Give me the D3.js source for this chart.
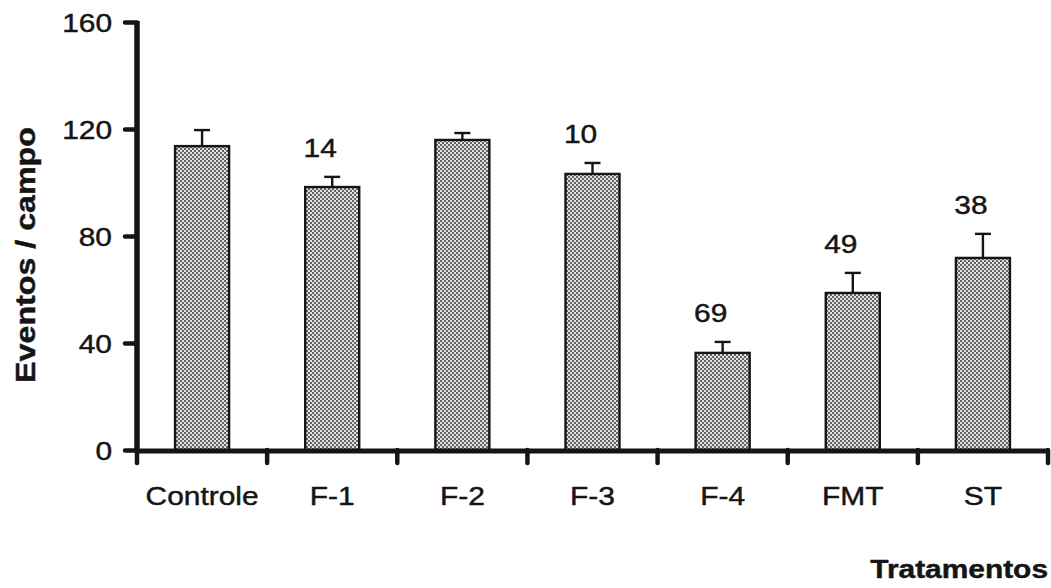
<!DOCTYPE html>
<html>
<head>
<meta charset="utf-8">
<script src="https://cdn.jsdelivr.net/npm/d3@7"></script>
<style>
  html, body { margin: 0; padding: 0; background: #fff; }
  svg { display: block; }
  text { font-family: "Liberation Sans", Arial, Helvetica, sans-serif; fill: #151515; stroke: #151515; stroke-width: 0.45px; }
</style>
</head>
<body>
<svg id="chart" width="1051" height="588"></svg>
<script>
// Treatments and mean events per field (with standard error)
const categories = ["Controle", "F-1", "F-2", "F-3", "F-4", "FMT", "ST"];
const means = [113.6, 98.3, 115.9, 103.2, 36.3, 58.7, 71.8];
const errors = [6.0, 3.8, 2.6, 4.1, 4.1, 7.5, 9.0];

// Numbers printed above selected bars
const noteCategories = ["F-1", "F-3", "F-4", "FMT", "ST"];
const noteLabels = ["14", "10", "69", "49", "38"];

const yTicks = [0, 40, 80, 120, 160];
const yLabel = "Eventos / campo";
const xLabel = "Tratamentos";

const svg = d3.select("#chart");
const ink = "#151515";
const stretch = "scale(1.15,1)";

// Halftone fill used for the bars
const defs = svg.append("defs");
const pat = defs.append("pattern")
  .attr("id", "halftone")
  .attr("patternUnits", "userSpaceOnUse")
  .attr("width", 4).attr("height", 4);
pat.append("rect").attr("width", 4).attr("height", 4).attr("fill", "#e2e2e2");
pat.append("circle").attr("cx", 1).attr("cy", 1).attr("r", 0.95).attr("fill", "#2e2e2e");
pat.append("circle").attr("cx", 3).attr("cy", 3).attr("r", 0.95).attr("fill", "#2e2e2e");

const x = d3.scaleBand().domain(categories).range([137, 1048])
  .paddingInner(0.585).paddingOuter(0.2925);
const y = d3.scaleLinear().domain([0, 160]).range([450, 22]);

const rows = categories.map((c, i) => ({ c, m: means[i], e: errors[i] }));

// Error bars (drawn first so the bar outline sits on top)
const eb = svg.append("g").attr("stroke", ink).attr("stroke-width", 2.4).attr("fill", "none");
eb.selectAll("line.v").data(rows).join("line")
  .attr("class", "v")
  .attr("x1", d => x(d.c) + x.bandwidth() / 2)
  .attr("x2", d => x(d.c) + x.bandwidth() / 2)
  .attr("y1", d => y(d.m))
  .attr("y2", d => y(d.m + d.e));
eb.selectAll("line.cap").data(rows).join("line")
  .attr("class", "cap")
  .attr("x1", d => x(d.c) + x.bandwidth() / 2 - 8)
  .attr("x2", d => x(d.c) + x.bandwidth() / 2 + 8)
  .attr("y1", d => y(d.m + d.e))
  .attr("y2", d => y(d.m + d.e));

// Bars
svg.append("g").selectAll("rect").data(rows).join("rect")
  .attr("x", d => x(d.c))
  .attr("y", d => y(d.m))
  .attr("width", x.bandwidth())
  .attr("height", d => y(0) - y(d.m))
  .attr("fill", "url(#halftone)")
  .attr("stroke", ink)
  .attr("stroke-width", 2.4);

// Y axis
const yAxis = svg.append("g")
  .attr("transform", "translate(137,0)")
  .call(d3.axisLeft(y).tickValues(yTicks).tickSize(12).tickSizeOuter(0));
yAxis.select(".domain").attr("stroke", ink).attr("stroke-width", 5.5)
  .attr("d", `M0,${y(160) - 1}V${y(0) + 3}`);
yAxis.selectAll(".tick line").attr("stroke", ink).attr("stroke-width", 4.5)
  .attr("stroke-linecap", "round");
yAxis.selectAll(".tick text")
  .attr("font-size", 26)
  .attr("x", -25 / 1.15)
  .attr("dy", "0.36em")
  .attr("transform", stretch)
  .style("font-family", "\"Liberation Sans\", Arial, sans-serif")
  .attr("fill", ink);

// X axis line and boundary ticks
const step = x.step();
const bounds = categories.map(c => x(c) + x.bandwidth() / 2 - step / 2)
  .concat([x(categories[categories.length - 1]) + x.bandwidth() / 2 + step / 2]);
svg.append("line")
  .attr("x1", 135).attr("x2", d3.max(bounds) + 1)
  .attr("y1", y(0) + 1).attr("y2", y(0) + 1)
  .attr("stroke", ink).attr("stroke-width", 5);
svg.append("g").selectAll("line").data(bounds).join("line")
  .attr("x1", d => d).attr("x2", d => d)
  .attr("y1", y(0)).attr("y2", y(0) + 13)
  .attr("stroke", ink).attr("stroke-width", 4.5)
  .attr("stroke-linecap", "round");

// Category labels
svg.append("g").selectAll("text").data(categories).join("text")
  .attr("transform", c => `translate(${x(c) + x.bandwidth() / 2},505) ${stretch}`)
  .attr("text-anchor", "middle")
  .attr("font-size", 26)
  .text(c => c);

// Notes above bars
svg.append("g").selectAll("text").data(noteCategories).join("text")
  .attr("transform", (c, i) => {
    const r = rows.find(d => d.c === c);
    return `translate(${x(c) + x.bandwidth() / 2 - 12},${y(r.m + r.e) - 20}) ${stretch}`;
  })
  .attr("text-anchor", "middle")
  .attr("font-size", 26)
  .text((c, i) => noteLabels[i]);

// Axis titles
svg.append("text")
  .attr("transform", `translate(35,255) rotate(-90) ${stretch}`)
  .attr("text-anchor", "middle")
  .attr("font-size", 28)
  .attr("font-weight", "bold")
  .text(yLabel);

svg.append("text")
  .attr("transform", `translate(1048,578) ${stretch}`)
  .attr("text-anchor", "end")
  .attr("font-size", 26)
  .attr("font-weight", "bold")
  .text(xLabel);
</script>
</body>
</html>
